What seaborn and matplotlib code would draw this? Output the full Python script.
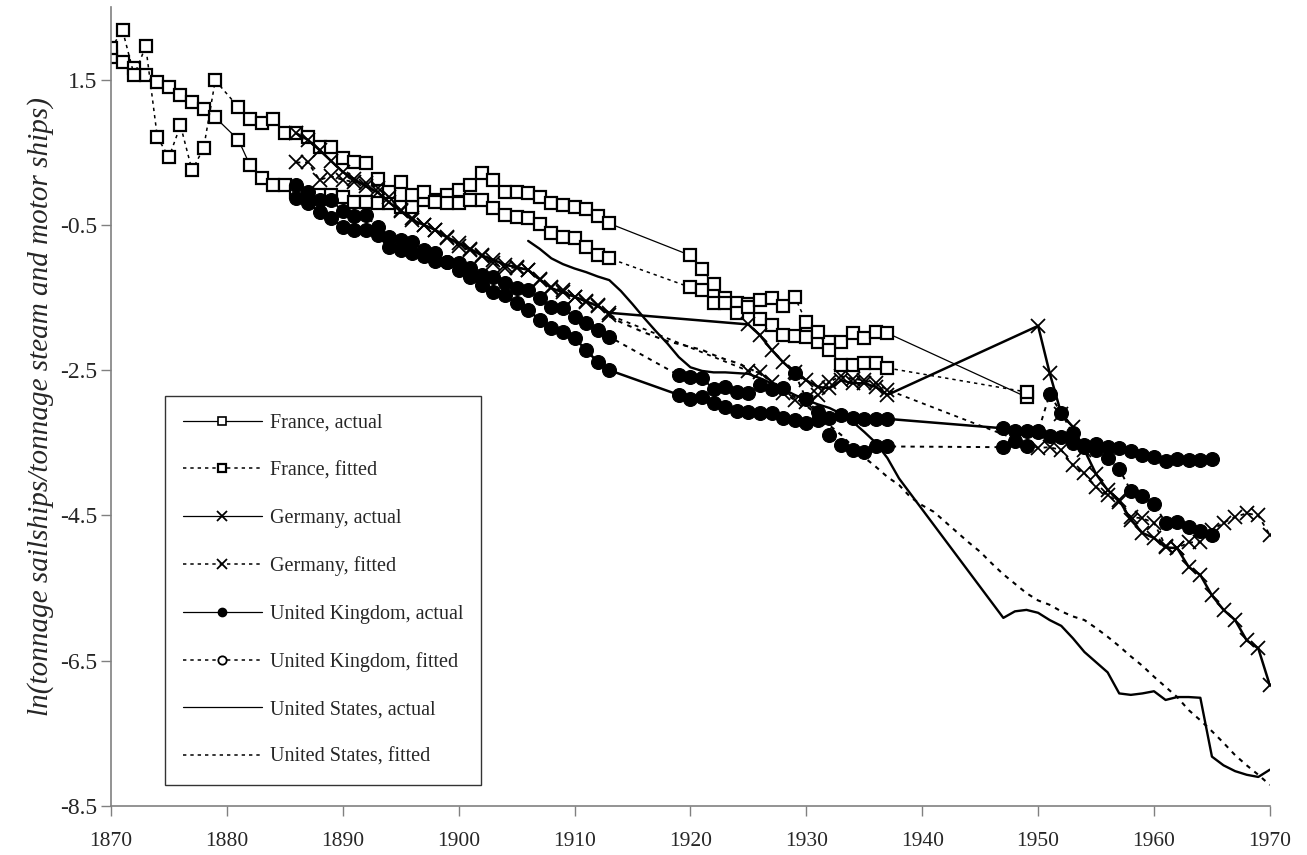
import matplotlib
matplotlib.use("Agg")
import matplotlib.pyplot as plt
from matplotlib.lines import Line2D
import seaborn as sns

sns.set_style("ticks")
plt.rcParams["font.family"] = ["Liberation Serif", "DejaVu Serif"]
plt.rcParams["axes.unicode_minus"] = False

# =============================================
# Data: ln(sail tonnage / steam+motor tonnage)
# =============================================
fr_years = list(range(1870, 1880)) + list(range(1881, 1914)) + list(range(1920, 1938)) + [1949]
fr_actual = [1.81, 1.74, 1.66, 1.56, 1.47, 1.40, 1.29, 1.19, 1.09, 0.98,
             0.67, 0.32, 0.14, 0.05, 0.05, -0.05, -0.09, -0.09, -0.09, -0.12,
             -0.19, -0.19, -0.20, -0.20, -0.26, -0.26, -0.16, -0.16, -0.09, -0.02,
             0.05, 0.21, 0.12, -0.05, -0.05, -0.06, -0.12, -0.20, -0.23, -0.26,
             -0.28, -0.38, -0.48,
             -0.92, -1.11, -1.32, -1.51, -1.58, -1.59, -1.80, -1.88, -2.02, -2.03,
             -2.04, -2.11, -2.11, -2.11, -1.99, -2.06, -1.98, -1.99,
             -2.87]
fr_fitted = [1.93, 2.18, 1.56, 1.96, 0.71, 0.43, 0.87, 0.25, 0.56, 1.49,
             1.12, 0.96, 0.90, 0.96, 0.76, 0.76, 0.71, 0.57, 0.57, 0.42,
             0.36, 0.35, 0.13, -0.05, 0.09, -0.09, -0.05, -0.19, -0.20, -0.20,
             -0.16, -0.16, -0.27, -0.37, -0.39, -0.41, -0.49, -0.61, -0.67, -0.68,
             -0.81, -0.92, -0.96,
             -1.36, -1.40, -1.58, -1.58, -1.71, -1.63, -1.53, -1.51, -1.62, -1.49,
             -1.84, -1.98, -2.22, -2.43, -2.43, -2.40, -2.40, -2.47,
             -2.80]

de_years = list(range(1886, 1914)) + list(range(1925, 1938)) + list(range(1950, 1971))
de_actual = [0.76, 0.67, 0.53, 0.38, 0.23, 0.13, 0.03, -0.05, -0.19, -0.31,
             -0.43, -0.50, -0.57, -0.67, -0.75, -0.83, -0.92, -0.98, -1.05, -1.08,
             -1.12, -1.25, -1.37, -1.43, -1.49, -1.55, -1.62, -1.71,
             -1.87, -2.02, -2.22, -2.39, -2.53, -2.64, -2.73, -2.75, -2.64, -2.68,
             -2.68, -2.73, -2.84,
             -1.89, -2.54, -3.10, -3.28, -3.60, -3.93, -4.15, -4.29, -4.56, -4.74,
             -4.81, -4.94, -4.95, -5.21, -5.32, -5.60, -5.80, -5.94, -6.22, -6.33,
             -6.84]
de_fitted = [0.36, 0.36, 0.12, 0.17, 0.12, 0.09, 0.08, 0.01, -0.12, -0.30,
             -0.41, -0.50, -0.57, -0.68, -0.79, -0.85, -0.93, -1.03, -1.09, -1.09,
             -1.12, -1.26, -1.36, -1.40, -1.49, -1.56, -1.60, -1.74,
             -2.51, -2.53, -2.66, -2.82, -2.91, -2.94, -2.84, -2.66, -2.58, -2.62,
             -2.64, -2.68, -2.77,
             -3.57, -3.56, -3.60, -3.81, -3.92, -4.11, -4.22, -4.32, -4.52, -4.54,
             -4.60, -4.92, -4.95, -4.87, -4.87, -4.70, -4.60, -4.52, -4.47, -4.50,
             -4.77]

uk_years = list(range(1886, 1914)) + list(range(1919, 1938)) + list(range(1947, 1966))
uk_actual = [-0.13, -0.20, -0.32, -0.41, -0.53, -0.57, -0.57, -0.64, -0.81, -0.85,
             -0.89, -0.93, -1.00, -1.01, -1.12, -1.22, -1.33, -1.43, -1.47, -1.58,
             -1.67, -1.81, -1.92, -1.98, -2.06, -2.22, -2.39, -2.50,
             -2.84, -2.90, -2.87, -2.95, -3.01, -3.06, -3.08, -3.09, -3.09, -3.16,
             -3.19, -3.23, -3.19, -3.16, -3.12, -3.16, -3.17, -3.17, -3.17,
             -3.30, -3.34, -3.34, -3.34, -3.41, -3.42, -3.50, -3.53, -3.52, -3.56,
             -3.57, -3.61, -3.67, -3.70, -3.75, -3.72, -3.74, -3.74, -3.72]
uk_fitted = [0.05, -0.05, -0.16, -0.16, -0.31, -0.38, -0.37, -0.53, -0.67, -0.71,
             -0.74, -0.85, -0.89, -1.01, -1.03, -1.09, -1.19, -1.22, -1.30, -1.37,
             -1.40, -1.51, -1.63, -1.65, -1.77, -1.85, -1.95, -2.04,
             -2.57, -2.59, -2.61, -2.76, -2.73, -2.80, -2.82, -2.71, -2.76, -2.75,
             -2.54, -2.90, -3.08, -3.39, -3.53, -3.60, -3.63, -3.55, -3.55,
             -3.56, -3.48, -3.55, -3.35, -2.83, -3.09, -3.37, -3.56, -3.60, -3.71,
             -3.86, -4.16, -4.23, -4.34, -4.60, -4.59, -4.66, -4.72, -4.77]

us_years = list(range(1906, 1939)) + list(range(1947, 1971))
us_actual = [-0.72, -0.83, -0.96, -1.04, -1.10, -1.15, -1.21, -1.26, -1.41, -1.59,
             -1.78, -1.96, -2.13, -2.32, -2.46, -2.51, -2.53, -2.53, -2.54, -2.55,
             -2.61, -2.68, -2.76, -2.84, -2.91, -2.97, -3.02, -3.10, -3.21, -3.35,
             -3.50, -3.71, -3.99,
             -5.91, -5.82, -5.80, -5.84, -5.94, -6.02, -6.19, -6.38, -6.52, -6.66,
             -6.95, -6.97, -6.95, -6.92, -7.04, -7.00, -7.00, -7.01, -7.82, -7.94,
             -8.02, -8.07, -8.10, -8.00]
us_fit_years = list(range(1913, 1971))
us_fitted = [-1.76, -1.84, -1.91, -1.98, -2.04, -2.10, -2.14, -2.18, -2.22, -2.29,
             -2.35, -2.40, -2.47, -2.55, -2.65, -2.76, -2.87, -2.99, -3.12, -3.26,
             -3.39, -3.55, -3.70, -3.83, -3.97, -4.08, -4.25, -4.36, -4.45, -4.59,
             -4.73, -4.87, -5.00, -5.16, -5.31, -5.44, -5.57, -5.67, -5.73, -5.82,
             -5.89, -5.94, -6.05, -6.17, -6.30, -6.44, -6.57, -6.72, -6.86, -7.00,
             -7.18, -7.32, -7.47, -7.63, -7.80, -7.94, -8.07, -8.21]

y_ticks = [1.5, -0.5, -2.5, -4.5, -6.5, -8.5]
x_ticks = list(range(1870, 1971, 10))

DASH = (2.2, 2.6)


def serie(ax, x, y, **kw):
    sns.lineplot(x=x, y=y, ax=ax, color="black", errorbar=None,
                 sort=False, legend=False, **kw)


fig = plt.figure(figsize=(13.07, 8.55), dpi=100)
ax = fig.add_axes([0.0849, 0.0573, 0.8867, 0.9345])

# France
sq = dict(marker="s", markersize=8, markerfacecolor="white",
          markeredgecolor="black", markeredgewidth=1.6)
serie(ax, fr_years, fr_actual, linewidth=0.9, **sq)
serie(ax, fr_years, fr_fitted, linewidth=1.1, dashes=DASH, **sq)

# Germany
cross = dict(marker="x", markersize=10, markeredgecolor="black", markeredgewidth=1.3)
serie(ax, de_years, de_actual, linewidth=1.8, **cross)
serie(ax, de_years, de_fitted, linewidth=1.3, dashes=DASH, **cross)

# United Kingdom
dot = dict(marker="o", markersize=10, markerfacecolor="black",
           markeredgecolor="black", markeredgewidth=0.8)
serie(ax, uk_years, uk_actual, linewidth=1.8, **dot)
serie(ax, uk_years, uk_fitted, linewidth=1.4, dashes=DASH, **dot)

# United States
serie(ax, us_years, us_actual, linewidth=1.7)
serie(ax, us_fit_years, us_fitted, linewidth=1.5, dashes=DASH)

ax.set_xlim(1870, 1970)
ax.set_ylim(-8.5, 2.5)
ax.set_xticks(x_ticks)
ax.set_xticklabels([str(t) for t in x_ticks])
ax.set_yticks(y_ticks)
ax.set_yticklabels([f"{t:.1f}" for t in y_ticks])
ax.tick_params(axis="both", direction="out", length=7, width=1, color="#808080")
ax.tick_params(axis="x", labelsize=15.5, pad=12)
ax.tick_params(axis="y", labelsize=17, pad=3)
for side in ["top", "right"]:
    ax.spines[side].set_visible(False)
for side in ["left", "bottom"]:
    ax.spines[side].set_color("#808080")
    ax.spines[side].set_linewidth(1.2)
ax.set_xlabel("")
ax.set_ylabel("ln(tonnage sailships/tonnage steam and motor ships)",
              fontsize=21, fontstyle="italic", labelpad=4)

# Legende
handles = [
    Line2D([], [], color="black", lw=0.9, marker="s", ms=6, mfc="white", mec="black", mew=1.2),
    Line2D([], [], color="black", lw=1.1, dashes=DASH, marker="s", ms=6, mfc="white", mec="black", mew=1.6),
    Line2D([], [], color="black", lw=0.9, marker="x", ms=7, mec="black", mew=1.3),
    Line2D([], [], color="black", lw=1.1, dashes=DASH, marker="x", ms=7, mec="black", mew=1.3),
    Line2D([], [], color="black", lw=0.9, marker="o", ms=6, mfc="black", mec="black"),
    Line2D([], [], color="black", lw=1.1, dashes=DASH, marker="o", ms=6, mfc="white", mec="black", mew=1.3),
    Line2D([], [], color="black", lw=0.9),
    Line2D([], [], color="black", lw=1.1, dashes=DASH),
]
labels = ["France, actual", "France, fitted", "Germany, actual", "Germany, fitted",
          "United Kingdom, actual", "United Kingdom, fitted",
          "United States, actual", "United States, fitted"]
leg = ax.legend(handles, labels, loc="upper left", bbox_to_anchor=(0.047, 0.513),
                fontsize=14.5, frameon=True, fancybox=False, handlelength=3.9,
                handletextpad=0.4, labelspacing=1.41, borderpad=0.88, borderaxespad=0)
leg.get_frame().set_edgecolor("black")
leg.get_frame().set_linewidth(1.0)

plt.savefig("out.png", dpi=100)
plt.close()
